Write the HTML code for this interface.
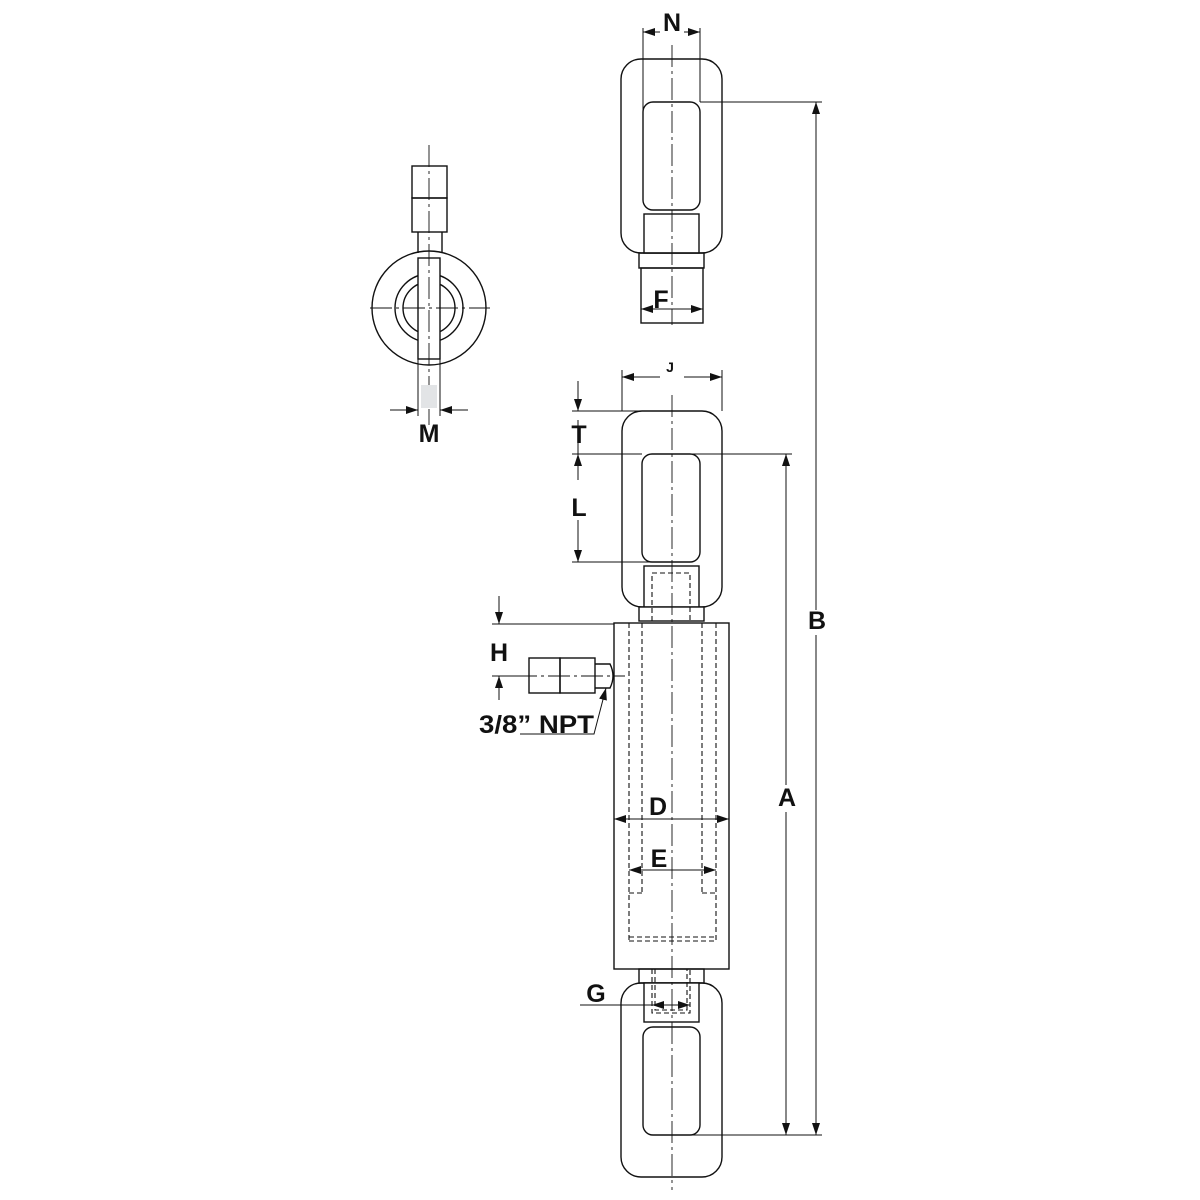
<!DOCTYPE html>
<html><head><style>
html,body{margin:0;padding:0;background:#fff;}
svg{display:block;}
text{font-family:"Liberation Sans",sans-serif;font-weight:bold;fill:#111;}
</style></head><body>
<svg width="1200" height="1200" viewBox="0 0 1200 1200" xmlns="http://www.w3.org/2000/svg">
<defs>
<marker id="a" markerWidth="12" markerHeight="8" refX="12" refY="4" orient="auto" markerUnits="userSpaceOnUse">
<path d="M0,0 L12,4 L0,8 Z" fill="#111"/></marker>
</defs>
<g fill="none" stroke="#111" stroke-width="1.4">
<rect x="621" y="59" width="101" height="194" rx="20"/>
<rect x="643" y="102" width="57" height="108" rx="10"/>
<rect x="644" y="214" width="55" height="39" fill="#fff"/>
<rect x="639" y="253" width="65" height="15"/>
<rect x="641" y="268" width="62" height="55"/>
<circle cx="429" cy="308" r="57"/>
<circle cx="429" cy="308" r="34"/>
<circle cx="429" cy="308" r="26"/>
<rect x="418" y="258" width="22" height="101" fill="#fff"/>
<rect x="412" y="166" width="35" height="32"/>
<rect x="412" y="198" width="35" height="34"/>
<line x1="418" y1="232" x2="418" y2="253"/><line x1="442" y1="232" x2="442" y2="253"/>
<rect x="622" y="411" width="100" height="196" rx="20"/>
<rect x="642" y="454" width="58" height="108" rx="10"/>
<rect x="644" y="566" width="55" height="41" fill="#fff"/>
<rect x="639" y="607" width="65" height="14" fill="#fff"/>
<rect x="614" y="623" width="115" height="346"/>
<rect x="639" y="969" width="65" height="14"/>
<rect x="621" y="983" width="101" height="194" rx="20"/>
<rect x="644" y="983" width="55" height="39" fill="#fff"/>
<rect x="643" y="1027" width="57" height="108" rx="10"/>
<rect x="529" y="658" width="31" height="35"/>
<rect x="560" y="658" width="35" height="35"/>
<path d="M595,664 H610 Q616,676 610,688 H595"/>
</g>
<g fill="none" stroke="#111" stroke-width="1.1" stroke-dasharray="5,3">
<path d="M652,621 V573 H690 V621"/>
<line x1="629" y1="623" x2="629" y2="940"/><line x1="716" y1="623" x2="716" y2="940"/>
<line x1="642" y1="623" x2="642" y2="893"/><line x1="702" y1="623" x2="702" y2="893"/>
<line x1="629" y1="893" x2="642" y2="893"/><line x1="702" y1="893" x2="716" y2="893"/>
<line x1="629" y1="937" x2="716" y2="937"/><line x1="629" y1="941" x2="716" y2="941"/>
<path d="M652,969 V1013 H690 V969"/>
<path d="M655,969 V1010 H687 V969"/>
</g>
<g stroke="#111" stroke-width="0.9" stroke-dasharray="22,4,3,4" fill="none">
<line x1="672" y1="45" x2="672" y2="325"/>
<line x1="429" y1="145" x2="429" y2="425"/>
<line x1="370" y1="308" x2="490" y2="308"/>
<line x1="672" y1="395" x2="672" y2="1190"/>
<line x1="515" y1="676" x2="625" y2="676"/>
</g>
<g stroke="#111" stroke-width="1" fill="none">
<line x1="643" y1="28" x2="643" y2="110"/><line x1="700" y1="28" x2="700" y2="102"/>
<line x1="660" y1="32" x2="643" y2="32" marker-end="url(#a)"/><line x1="684" y1="32" x2="700" y2="32" marker-end="url(#a)"/>
<line x1="672" y1="309" x2="641" y2="309" marker-end="url(#a)"/><line x1="672" y1="309" x2="703" y2="309" marker-end="url(#a)"/>
<line x1="700" y1="102" x2="822" y2="102"/>
<line x1="816" y1="610" x2="816" y2="102" marker-end="url(#a)"/>
<line x1="816" y1="635" x2="816" y2="1135" marker-end="url(#a)"/>
<line x1="672" y1="1135" x2="822" y2="1135"/>
<line x1="786" y1="785" x2="786" y2="454" marker-end="url(#a)"/>
<line x1="786" y1="812" x2="786" y2="1135" marker-end="url(#a)"/>
<line x1="672" y1="454" x2="792" y2="454"/>
<line x1="622" y1="370" x2="622" y2="411"/><line x1="722" y1="370" x2="722" y2="411"/>
<line x1="660" y1="377" x2="622" y2="377" marker-end="url(#a)"/><line x1="684" y1="377" x2="722" y2="377" marker-end="url(#a)"/>
<line x1="578" y1="381" x2="578" y2="411" marker-end="url(#a)"/>
<line x1="578" y1="420" x2="578" y2="454"/>
<line x1="578" y1="480" x2="578" y2="454" marker-end="url(#a)"/>
<line x1="578" y1="520" x2="578" y2="562" marker-end="url(#a)"/>
<line x1="572" y1="411" x2="672" y2="411"/>
<line x1="572" y1="454" x2="642" y2="454"/>
<line x1="572" y1="562" x2="672" y2="562"/>
<line x1="418" y1="359" x2="418" y2="416"/><line x1="440" y1="359" x2="440" y2="416"/>
<line x1="390" y1="410" x2="418" y2="410" marker-end="url(#a)"/><line x1="468" y1="410" x2="440" y2="410" marker-end="url(#a)"/>
<line x1="499" y1="596" x2="499" y2="624" marker-end="url(#a)"/>
<line x1="492" y1="624" x2="614" y2="624"/>
<line x1="499" y1="700" x2="499" y2="676" marker-end="url(#a)"/>
<line x1="492" y1="676" x2="515" y2="676"/>
<polyline points="520,734 594,734 606,688" marker-end="url(#a)"/>
<line x1="672" y1="819" x2="614" y2="819" marker-end="url(#a)"/><line x1="672" y1="819" x2="729" y2="819" marker-end="url(#a)"/>
<line x1="672" y1="870" x2="629" y2="870" marker-end="url(#a)"/><line x1="672" y1="870" x2="716" y2="870" marker-end="url(#a)"/>
<line x1="580" y1="1005" x2="652" y2="1005"/>
<line x1="672" y1="1005" x2="652" y2="1005" marker-end="url(#a)"/><line x1="672" y1="1005" x2="690" y2="1005" marker-end="url(#a)"/>
</g>
<rect x="421" y="385" width="16" height="23" fill="#e2e4e6"/>
<g font-size="25">
<text x="672" y="31" text-anchor="middle">N</text>
<text x="661" y="308" text-anchor="middle">F</text>
<text x="429" y="442" text-anchor="middle">M</text>
<text x="670" y="372" text-anchor="middle" font-size="14">J</text>
<text x="579" y="443" text-anchor="middle">T</text>
<text x="579" y="516" text-anchor="middle">L</text>
<text x="499" y="661" text-anchor="middle">H</text>
<text x="479" y="733" textLength="115" lengthAdjust="spacingAndGlyphs">3/8” NPT</text>
<text x="658" y="815" text-anchor="middle">D</text>
<text x="659" y="867" text-anchor="middle">E</text>
<text x="596" y="1002" text-anchor="middle">G</text>
<text x="787" y="806" text-anchor="middle">A</text>
<text x="817" y="629" text-anchor="middle">B</text>
</g>
</svg>
</body></html>
